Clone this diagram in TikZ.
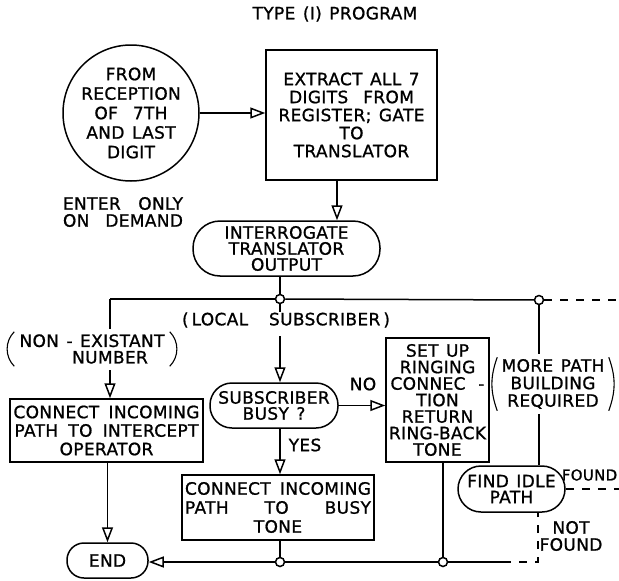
\documentclass[tikz,border=0pt]{standalone}
\usepackage{fontspec}
\setmainfont{DejaVu Sans}[LetterSpace=2, WordSpace=1.3, FakeBold=1]
\usetikzlibrary{arrows.meta}
\begin{document}
\begin{tikzpicture}[x=1pt,y=-1pt, line width=1.5pt,
  lbl/.style={inner sep=0pt, align=center, font=\fontsize{17}{#1}\selectfont},
  lbl/.default=17,
  arr/.style={-{Triangle[open,length=15pt,width=11pt,fill=white]}},
  jn/.style={circle, draw, fill=white, inner sep=0pt, minimum size=9pt},
  dsh/.style={dash pattern=on 8pt off 8pt},
  paren/.style={line width=1.1pt},
]
\useasboundingbox (0,0) rectangle (619,581);
\node[lbl] (title) at (335,14) {TYPE (I) PROGRAM};
\node[draw, circle, minimum size=136pt, lbl=19.5] (from) at (131,113) {FROM\\RECEPTION\\OF\ \ 7TH\\AND LAST\\DIGIT};
\node[draw, minimum width=171pt, minimum height=130pt, lbl=18] (extract) at (351.5,115) {EXTRACT ALL 7\\DIGITS\ \ FROM\\REGISTER; GATE\\TO\\TRANSLATOR};
\node[lbl] (enter) at (123,212) {\makebox[120pt][s]{ENTER\hfill ONLY}\\\makebox[120pt][s]{ON\hfill DEMAND}};
\node[draw, rounded corners=27pt, minimum width=187pt, minimum height=55pt, lbl=16] (interr) at (286.5,248.5) {INTERROGATE\\TRANSLATOR\\OUTPUT};
\node[jn] (j1) at (280,299) {};
\node[jn] (j2) at (539,300) {};
\coordinate (cl) at (110,299);
\coordinate (topend) at (619,300);
\node[lbl=16.5, minimum width=150pt, minimum height=33pt] (nonex) at (92,349) {NON - EXISTANT\\\hspace*{36pt}NUMBER};
\node[draw, minimum width=193pt, minimum height=63pt, lbl=18.5] (intercept) at (106.5,430.5) {\makebox[186pt][s]{CONNECT\hfill INCOMING}\\\makebox[184pt][s]{PATH TO INTERCEPT}\\OPERATOR};
\node[draw, rounded corners=17pt, minimum width=81pt, minimum height=35pt, lbl] (end) at (107.5,560.5) {END};
\node[lbl] (local) at (286,320) {\makebox[208pt][s]{(\hspace{3pt}LOCAL\hfill SUBSCRIBER\hspace{3pt})}};
\node[draw, rounded corners=22pt, minimum width=128pt, minimum height=45pt, lbl=16] (busy) at (274,405.5) {SUBSCRIBER\\BUSY ?};
\node[draw, minimum width=103pt, minimum height=124pt, lbl=16.5] (setup) at (437.5,400) {SET UP\\RINGING\\\makebox[94pt][s]{CONNEC\hfill -}\\TION\\RETURN\\RING-BACK\\TONE};
\node[lbl] (no) at (363,384) {NO};
\node[lbl] (yes) at (305,445) {YES};
\node[draw, minimum width=192pt, minimum height=65pt, lbl=19] (busytone) at (278,507.5) {\makebox[186pt][s]{CONNECT\hfill INCOMING}\\\makebox[186pt][s]{PATH\hfill TO\hfill BUSY}\\TONE};
\node[jn] (j3) at (280,562) {};
\node[jn] (j4) at (443,562) {};
\node[lbl=17.5, minimum width=110pt, minimum height=52pt] (more) at (553,384) {MORE\ PATH\\BUILDING\\REQUIRED};
\node[draw, rounded corners=23pt, minimum width=107pt, minimum height=46pt, lbl=16] (idle) at (511.5,489) {FIND IDLE\\PATH};
\node[lbl, font=\fontsize{15}{17}\selectfont, anchor=east] (found) at (618,475) {FOUND};
\node[lbl=17] (notfound) at (571,536) {NOT\\FOUND};
\coordinate (cr) at (538,562);
\coordinate (bs) at (503,562);
\coordinate (foundend) at (619,489);
% parentheses
\draw[paren] ([xshift=-2pt]nonex.north west) to[bend right=45] ([xshift=-2pt]nonex.south west);
\draw[paren] ([xshift=2pt]nonex.north east) to[bend left=45] ([xshift=2pt]nonex.south east);
\draw[paren] (more.north west) to[bend right=20] (more.south west);
\draw[paren] (more.north east) to[bend left=20] (more.south east);
% connectors
\draw[arr] (from.east) -- (from.east -| extract.west);
\draw[arr] ([xshift=-14.5pt]extract.south) -- ([xshift=-14.5pt]extract.south |- interr.north);
\draw (interr.south -| j1) -- (j1);
\draw (cl) -- (j1);
\draw (j1) -- (j2);
\draw[dsh] (j2) -- (topend);
\draw (cl) -- ([yshift=3pt]cl |- nonex.north);
\draw[arr] ([yshift=-4pt]cl |- nonex.south) -- (cl |- intercept.north);
\draw[arr] (end.north |- intercept.south) -- (end.north);
\draw (j1) -- (local.north -| j1);
\draw[arr] ([yshift=-8pt]local.south -| j1) -- (busy.north -| j1);
\draw[arr] (busy.east) -- (busy.east -| setup.west);
\draw[arr] (busy.south -| j1) -- (busytone.north -| j1);
\draw (busytone.south -| j3) -- (j3);
\draw[arr] (j3) -- (j3 -| end.east);
\draw (j3) -- (j4);
\draw (setup.south -| j4) -- (j4);
\draw (j4) -- (bs);
\draw[dsh] (bs) -- (cr) -- (cr |- idle.south);
\draw (j2) -- ([yshift=3pt]j2 |- more.north);
\draw ([yshift=-3pt]j2 |- more.south) -- (j2 |- idle.north);
\draw[dsh] (idle.east) -- (idle.east -| foundend);
\end{tikzpicture}
\end{document}
